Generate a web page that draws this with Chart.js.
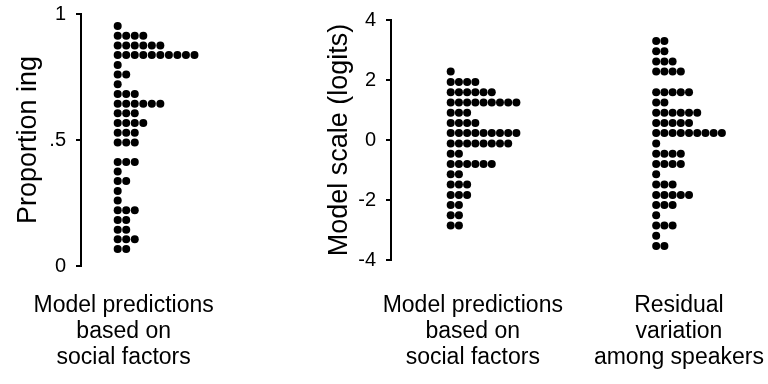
<!DOCTYPE html>
<html>
<head>
<meta charset="utf-8">
<script src="https://cdn.jsdelivr.net/npm/chart.js@4"></script>
<style>
  body { margin: 0; background: #fff; }
  #wrap { position: relative; width: 768px; height: 384px; overflow: hidden; }
  canvas { position: absolute; top: 0; }
</style>
</head>
<body>
<div id="wrap">
  <canvas id="left" width="300" height="384" style="left:0"></canvas>
  <canvas id="right" width="468" height="384" style="left:300px"></canvas>
</div>
<script>
//////// DATA //////////////////////////
// left panel: proportion ing, one row per bin, count = dots in the row
var propBins = [0.952, 0.914, 0.875, 0.837, 0.798, 0.760, 0.721, 0.683, 0.644, 0.606, 0.567, 0.529,
                0.490, 0.413, 0.375, 0.337, 0.298, 0.260, 0.221, 0.183, 0.144, 0.106, 0.067];
var propCounts = [1, 4, 6, 10, 1, 2, 1, 3, 6, 3, 4, 3, 3, 3, 1, 2, 1, 1, 3, 2, 2, 3, 2];
var propTicks = [0, 0.5, 1];
var propTickLabels = ["0", ".5", "1"];

// right panel: logit scale
var predBins = [2.28, 1.93, 1.59, 1.25, 0.91, 0.57, 0.23, -0.12, -0.46, -0.80, -1.14, -1.48,
                -1.83, -2.17, -2.51, -2.85];
var predCounts = [1, 4, 6, 9, 3, 4, 9, 8, 2, 6, 2, 3, 3, 2, 2, 2];
var residBins = [3.30, 2.96, 2.62, 2.28, 1.59, 1.25, 0.91, 0.57, 0.23, -0.12, -0.46, -0.80,
                 -1.14, -1.48, -1.83, -2.17, -2.51, -2.85, -3.19, -3.53];
var residCounts = [2, 2, 3, 4, 5, 2, 6, 5, 9, 1, 4, 4, 1, 3, 5, 3, 1, 3, 1, 2];
var logitTicks = [-4, -2, 0, 2, 4];
var logitTickLabels = ["-4", "-2", "0", "2", "4"];

var leftLabels = [["Model predictions", "based on", "social factors"]];
var rightLabels = [["Model predictions", "based on", "social factors"],
                   ["Residual", "variation", "among speakers"]];

//////// LAYOUT (x in dot steps) //////////////////////////
var leftDotStart = [4.3], leftLabelPos = [5.0];
var rightDotStart = [7.27, 32.29], rightLabelPos = [9.96, 35.06];

Chart.defaults.font.family = '"Liberation Sans", Arial, sans-serif';
Chart.defaults.color = "#000";

// one point per dot, stacked to the right from the group start
function dots(bins, counts, start) {
  var pts = [];
  for (var i = 0; i < bins.length; i++) {
    for (var j = 0; j < counts[i]; j++) {
      pts.push({x: start + j, y: bins[i]});
    }
  }
  return pts;
}

function dotSet(pts) {
  return {data: pts, backgroundColor: "#000", pointRadius: 4, pointBorderWidth: 0, pointHoverRadius: 4};
}

function xAxis(max, pos, labels, pad, h) {
  return {
    type: "linear", min: 0, max: max,
    border: {display: false},
    grid: {display: false, drawTicks: false},
    afterBuildTicks: function(s) { s.ticks = pos.map(function(v) { return {value: v}; }); },
    ticks: {autoSkip: false, maxRotation: 0, padding: pad, font: {size: 23, lineHeight: 1.117},
            callback: function(v, i) { return labels[i]; }},
    afterFit: function(s) { s.height = h; s.paddingLeft = 0; s.paddingRight = 0; }
  };
}

function yAxis(min, max, ticks, tickLabels, title, titlePad, w) {
  return {
    min: min, max: max,
    afterBuildTicks: function(s) { s.ticks = ticks.map(function(v) { return {value: v}; }); },
    ticks: {padding: 10, font: {size: 20}, callback: function(v, i) { return tickLabels[i]; }},
    grid: {drawOnChartArea: false, tickLength: 5, color: "#000", lineWidth: 2},
    border: {color: "#000", width: 2},
    title: {display: true, text: title, font: {size: 27, lineHeight: 1}, padding: {top: titlePad, bottom: 0}},
    afterFit: function(s) { s.width = w; s.paddingTop = 0; s.paddingBottom = 0; }
  };
}

function baseOptions(top, x, y) {
  return {
    responsive: false, animation: false,
    layout: {padding: {top: top, left: 0, right: 0, bottom: 0}},
    plugins: {legend: {display: false}, tooltip: {enabled: false}},
    scales: {x: x, y: y}
  };
}

//////// CHARTS //////////////////////////
new Chart(document.getElementById("left"), {
  type: "scatter",
  data: {datasets: [dotSet(dots(propBins, propCounts, leftDotStart[0]))]},
  options: baseOptions(14,
    xAxis(25.2, leftLabelPos, leftLabels, 27, 118),
    yAxis(0, 1, propTicks, propTickLabels, "Proportion ing", 15.5, 81))
});

new Chart(document.getElementById("right"), {
  type: "scatter",
  data: {datasets: [
    dotSet(dots(predBins, predCounts, rightDotStart[0])),
    dotSet(dots(residBins, residCounts, rightDotStart[1]))
  ]},
  options: baseOptions(20,
    xAxis(45.42, rightLabelPos, rightLabels, 33, 124),
    yAxis(-4, 4, logitTicks, logitTickLabels, "Model scale (logits)", 26.5, 91))
});
</script>
</body>
</html>
